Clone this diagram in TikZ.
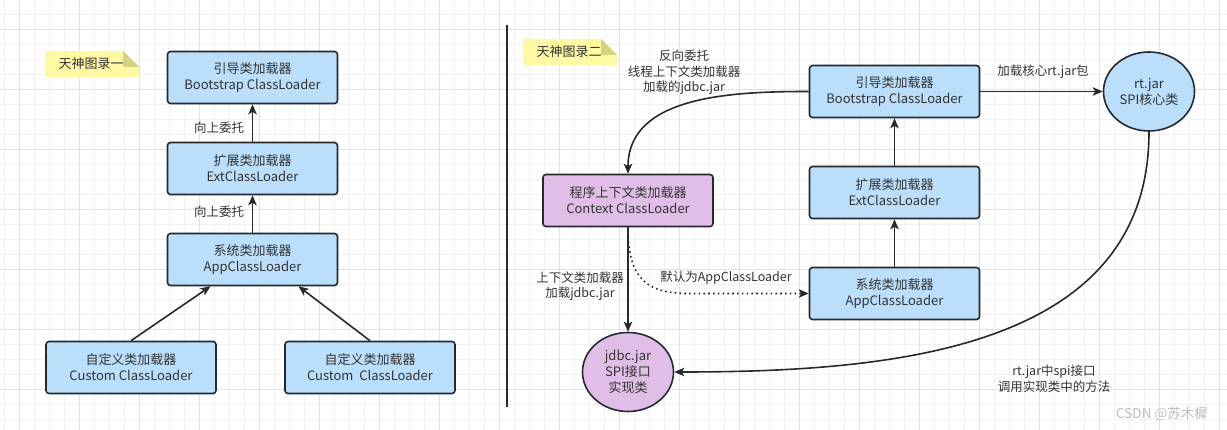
\documentclass[tikz,border=0pt]{standalone}
\usepackage{fontspec}
\setmainfont{Noto Sans CJK SC}
\usetikzlibrary{arrows.meta,calc,shapes.geometric}

\definecolor{loaderblue}{HTML}{BBDEFB}
\definecolor{loaderpurple}{HTML}{E1BEE7}
\definecolor{edgedark}{HTML}{262A2E}
\definecolor{textgray}{HTML}{333333}
\definecolor{noteyellow}{HTML}{FFF9A3}
\definecolor{notefold}{HTML}{D6D283}
\definecolor{gridminor}{HTML}{F1F1F1}
\definecolor{gridmajor}{HTML}{E2E2E2}
\definecolor{markgray}{HTML}{BDBDBD}

\tikzset{
  loader/.style={draw=edgedark, line width=1.6pt, fill=loaderblue, rounded corners=3pt,
    minimum width=170pt, minimum height=52pt, inner sep=0pt, align=center,
    text=textgray, font=\fontsize{13}{16}\selectfont},
  ctxloader/.style={loader, fill=loaderpurple},
  jarnode/.style={ellipse, draw=edgedark, line width=1.6pt, minimum width=91pt,
    minimum height=79pt, inner sep=0pt, align=center, text=textgray,
    font=\fontsize{13}{16}\selectfont},
  lbl/.style={align=center, text=textgray, inner sep=0pt, font=\fontsize{12.5}{15.5}\selectfont},
  arr/.style={draw=edgedark, line width=1.6pt, -{Stealth[length=10pt,width=8.5pt,inset=2.5pt]}},
  dotarr/.style={arr, dash pattern=on 1.6pt off 3.2pt},
}

\begin{document}
\begin{tikzpicture}[x=1pt,y=-1pt]
  %%%%% BACKGROUND %%%%%
  \fill[white] (0,0) rectangle (1227,430);
  \useasboundingbox (0,0) rectangle (1227,430);
  \foreach \gx in {4,19,...,1227} \draw[gridminor, line width=0.8pt] (\gx,0) -- (\gx,430);
  \foreach \gy in {14,29,...,430} \draw[gridminor, line width=0.8pt] (0,\gy) -- (1227,\gy);
  \foreach \gx in {19,79,...,1227} \draw[gridmajor, line width=0.8pt] (\gx,0) -- (\gx,430);
  \foreach \gy in {29,89,...,430} \draw[gridmajor, line width=0.8pt] (0,\gy) -- (1227,\gy);

  %%%%% LEFT: 天神图录一 %%%%%
  \fill[noteyellow] (45,51) -- (123,51) -- (139,67) -- (139,77) -- (45,77) -- cycle;
  \fill[notefold] (123,51) -- (139,67) -- (123,67) -- cycle;
  \node[lbl, font=\fontsize{13}{16}\selectfont] (note1) at (91,64) {天神图录一};

  \node[loader] (boot1) at (252.5,77.5) {引导类加载器\\Bootstrap ClassLoader};
  \node[loader] (ext1) at (252.5,168.5) {扩展类加载器\\ExtClassLoader};
  \node[loader] (app1) at (252.5,259.5) {系统类加载器\\AppClassLoader};
  \node[loader] (cust1) at (131,367.5) {自定义类加载器\\Custom ClassLoader};
  \node[loader] (cust2) at (370,367.5) {自定义类加载器\\Custom~~ClassLoader};

  \draw[arr] (ext1) -- (boot1);
  \draw[arr] (app1) -- (ext1);
  \draw[arr] (cust1.north) -- ($(app1.south)+(-42,0)$);
  \draw[arr] (cust2.north) -- ($(app1.south)+(46,0)$);
  \node[lbl] (up1) at (219,128) {向上委托};
  \node[lbl] (up2) at (219,212) {向上委托};

  % divider
  \draw[edgedark, line width=2pt] (507,25) -- (507,407);

  %%%%% RIGHT: 天神图录二 %%%%%
  \fill[noteyellow] (523,39) -- (601,39) -- (617,55) -- (617,65) -- (523,65) -- cycle;
  \fill[notefold] (601,39) -- (617,55) -- (601,55) -- cycle;
  \node[lbl, font=\fontsize{13}{16}\selectfont] (note2) at (569,52) {天神图录二};

  \node[loader] (boot2) at (894.5,91.5) {引导类加载器\\Bootstrap ClassLoader};
  \node[loader] (ext2) at (894.5,192.5) {扩展类加载器\\ExtClassLoader};
  \node[loader] (app2) at (894.5,293.5) {系统类加载器\\AppClassLoader};
  \node[ctxloader] (ctx) at (628,200.5) {程序上下文类加载器\\Context ClassLoader};
  \node[jarnode, fill=loaderpurple] (jdbc) at (628,372) {jdbc.jar\\SPI接口\\实现类};
  \node[jarnode, fill=loaderblue] (rt) at (1149,91.5) {rt.jar\\SPI核心类};

  \draw[arr] (ext2) -- (boot2);
  \draw[arr] (app2) -- (ext2);
  \draw[arr] (boot2) -- (rt);
  \draw[arr] (boot2.west) to[out=180, in=90] (ctx.north);
  \draw[arr] (ctx) -- (jdbc);
  \draw[dotarr] (ctx.south) .. controls +(0,52) and +(-42,0) .. ($(app2.west)+(-120,0)$) -- (app2.west);
  \draw[arr] (rt.south) to[out=-90, in=0, looseness=1.05] (jdbc.east);

  \node[lbl] (revlbl) at (684,72.5) {反向委托\\线程上下文类加载器\\加载的jdbc.jar};
  \node[lbl] (corelbl) at (1043,72) {加载核心rt.jar包};
  \node[lbl] (ctxlbl) at (580,286) {上下文类加载器\\加载jdbc.jar};
  \node[lbl] (deflbl) at (726,278) {默认为AppClassLoader};
  \node[lbl] (spilbl) at (1054,379) {rt.jar中spi接口\\调用实现类中的方法};

  \node[lbl, text=markgray, font=\fontsize{13.5}{16}\selectfont] (mark) at (1162,414) {CSDN @苏木樨};
\end{tikzpicture}
\end{document}
